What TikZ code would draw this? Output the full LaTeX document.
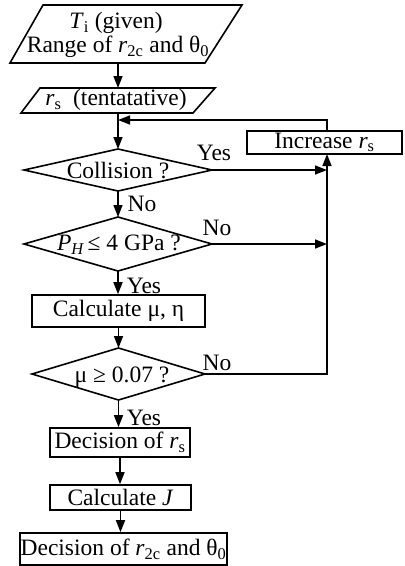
\documentclass[tikz,border=0pt]{standalone}
\usepackage{fontspec}
\setmainfont{Liberation Serif}
\usetikzlibrary{arrows.meta}
\newcommand{\sbs}[1]{\textsubscript{#1}}
\begin{document}
\begin{tikzpicture}[x=1pt,y=-1pt,line width=1.6pt,
  font=\fontsize{23.5}{27}\selectfont,
  >={Triangle[length=12pt,width=9pt]},
  txt/.style={inner sep=0pt},
  procbox/.style={draw,inner sep=0pt,minimum width=#1},
  lbl/.style={inner sep=0pt}]
\useasboundingbox (0,0) rectangle (405,566);
% input parallelogram 1
\draw (43,5) -- (242,5) -- (205,63) -- (10,63) -- cycle;
\node[txt] (t1) at (116,23) {\textit{T}\sbs{i} (given)};
\node[txt] (t2) at (118,47) {Range of \textit{r}\sbs{2c} and θ\sbs{0}};
\coordinate (p1bot) at (118,63);
% parallelogram 2
\draw (40,88) -- (215,88) -- (193,113) -- (21,113) -- cycle;
\node[txt] (t3) at (116,100) {\textit{r}\sbs{s}\ \ (tentatative)};
\coordinate (p2top) at (118,88);
\coordinate (p2bot) at (118,113);
\coordinate (fb) at (118,120);
% collision diamond
\draw (24,170) -- (118,149) -- (212,170) -- (118,191) -- cycle;
\node[txt] (d1) at (118,171) {Collision ?};
\coordinate (d1t) at (118,149);
\coordinate (d1r) at (212,170);
\coordinate (d1b) at (118,191);
% PH diamond
\draw (24,244) -- (118,217) -- (212,244) -- (118,271) -- cycle;
\node[txt] (d2) at (119,245) {\textit{P\sbs{H}}\,≤ 4 GPa ?};
\coordinate (d2t) at (118,217);
\coordinate (d2r) at (212,244);
\coordinate (d2b) at (118,271);
% calc mu eta
\node[procbox=173pt,minimum height=32pt] (calcmu) at (118.5,311) {Calculate μ, η};
% mu diamond
\draw (32,374) -- (118.5,348) -- (205,374) -- (118.5,400) -- cycle;
\node[txt] (d3) at (122,377) {μ ≥ 0.07 ?};
\coordinate (d3t) at (118.5,348);
\coordinate (d3r) at (205,374);
\coordinate (d3b) at (118.5,400);
% lower boxes
\node[procbox=140pt,minimum height=29pt] (decrs) at (120,442.5) {Decision of \textit{r}\sbs{s}};
\node[procbox=141pt,minimum height=25pt] (calcJ) at (120.5,497.5) {Calculate \textit{J}};
\node[procbox=207pt,minimum height=32pt] (final) at (123.5,549) {Decision of \textit{r}\sbs{2c} and θ\sbs{0}};
% increase box
\node[procbox=155pt,minimum height=23pt] (inc) at (324.5,142.5) {Increase \textit{r}\sbs{s}};
\coordinate (incb) at (327,154);
\coordinate (inct) at (327,131);
\coordinate (rc1) at (327,170);
\coordinate (rc2) at (327,244);
\coordinate (rc3) at (327,374);
% connectors
\draw[->] (p1bot) -- (p2top);
\draw[->] (p2bot) -- (d1t);
\draw[->] (inct) -- (fb -| inct) -- (fb);
\draw[->] (d1b) -- (d2t);
\draw[->] (d2b) -- (d2b |- calcmu.north);
\draw[->] (calcmu.south) -- (d3t);
\draw[->] (d3b) -- (d3b |- decrs.north);
\draw[->] (decrs.south) -- (decrs.south |- calcJ.north);
\draw[->] (calcJ.south) -- (calcJ.south |- final.north);
\draw[->] (d1r) -- (rc1);
\draw[->] (d2r) -- (rc2);
\draw[->] (d3r) -- (rc3) -- (incb);
% labels
\node[lbl] (y1) at (214,153) {Yes};
\node[lbl] (n1) at (142,204) {No};
\node[lbl] (n2) at (217,228) {No};
\node[lbl] (y2) at (144,286) {Yes};
\node[lbl] (n3) at (217,363) {No};
\node[lbl] (y3) at (144,418) {Yes};
\end{tikzpicture}
\end{document}
